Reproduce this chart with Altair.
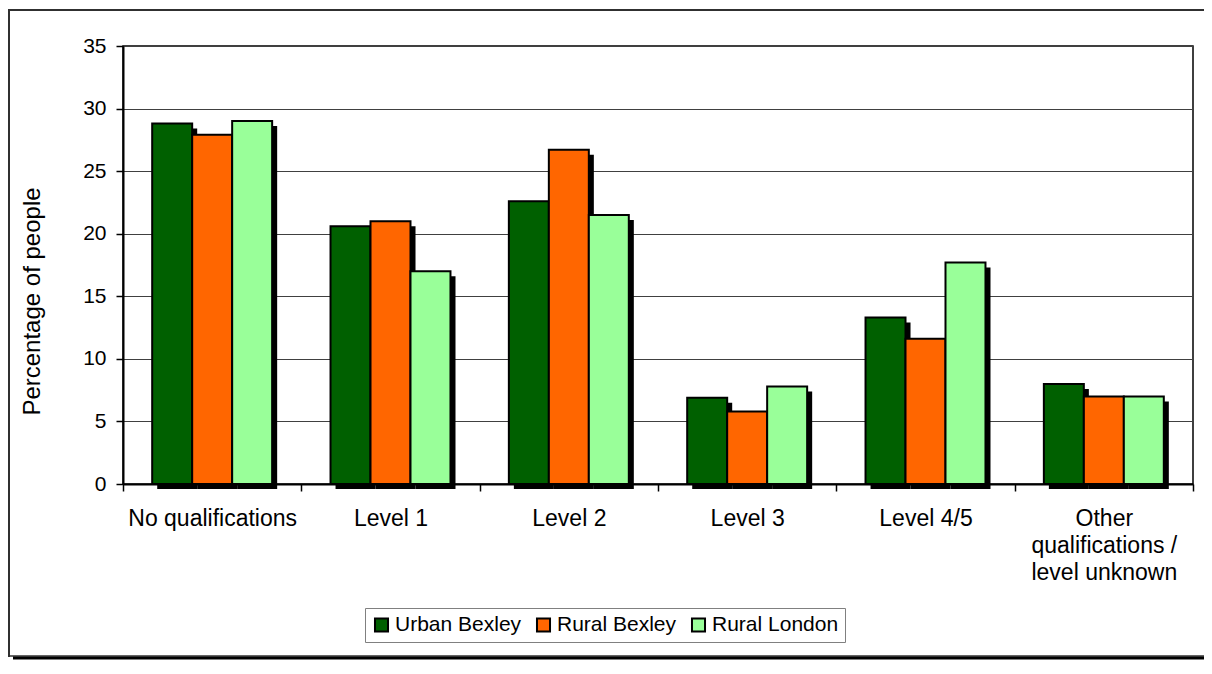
import altair as alt
import pandas as pd

categories = ["No qualifications", "Level 1", "Level 2", "Level 3", "Level 4/5",
              "Other qualifications / level unknown"]
series = ["Urban Bexley", "Rural Bexley", "Rural London"]
urban_bexley = [28.8, 20.6, 22.6, 6.9, 13.3, 8.0]
rural_bexley = [27.9, 21.0, 26.7, 5.8, 11.6, 7.0]
rural_london = [29.0, 17.0, 21.5, 7.8, 17.7, 7.0]
colors = ["#006000", "#FF6600", "#99FF99"]

rows = []
for name, vals in zip(series, [urban_bexley, rural_bexley, rural_london]):
    for c, v in zip(categories, vals):
        rows.append({"category": c, "series": name, "value": v})
df = pd.DataFrame(rows)

FONT = "Liberation Sans, Arial"

x_enc = alt.X("category:N", sort=categories,
              scale=alt.Scale(paddingInner=0, paddingOuter=0),
              axis=alt.Axis(title=None, labelAngle=0, tickBand="extent",
                            labelFontSize=23, labelFont=FONT, labelColor="black",
                            labelPadding=16, labelLineHeight=27,
                            labelExpr="datum.label == 'Other qualifications / level unknown' ? ['Other', 'qualifications /', 'level unknown'] : datum.label",
                            domainColor="black", domainWidth=2,
                            tickColor="black", tickSize=7, tickWidth=1.5,
                            grid=False))
y_enc = alt.Y("value:Q", scale=alt.Scale(domain=[0, 35], nice=False),
              axis=alt.Axis(title="Percentage of people", values=list(range(0, 36, 5)),
                            titleFontSize=24, titleFont=FONT, titleFontWeight="normal",
                            titleColor="black", titleAngle=-90, titleAlign="center",
                            titleBaseline="middle", titleX=-91, titleY=255,
                            labelFontSize=21, labelFont=FONT, labelColor="black",
                            labelPadding=10, domainColor="black", domainWidth=2,
                            tickColor="black", tickSize=7, tickWidth=1.5,
                            grid=True, gridColor="#404040", gridWidth=1))

shadow = alt.Chart(df).mark_bar(color="black", yOffset=5, y2Offset=0).encode(
    x=x_enc,
    xOffset=alt.XOffset("series:N", sort=series,
                        scale=alt.Scale(paddingOuter=0.73, paddingInner=0, align=0.586)),
    y=y_enc,
)

bars = alt.Chart(df).mark_bar(stroke="black", strokeWidth=2).encode(
    x=x_enc,
    xOffset=alt.XOffset("series:N", sort=series,
                        scale=alt.Scale(paddingOuter=0.73, paddingInner=0)),
    y=y_enc,
    color=alt.Color("series:N", sort=series,
                    scale=alt.Scale(domain=series, range=colors),
                    legend=alt.Legend(title=None, orient="none", legendX=242, legendY=562,
                                      direction="horizontal", symbolType="square",
                                      symbolSize=170, symbolStrokeColor="black",
                                      symbolStrokeWidth=2, labelFontSize=21, labelFont=FONT,
                                      labelColor="black", labelOffset=3, columnPadding=10,
                                      strokeColor="#808080", padding=6, fillColor="white")),
)

one = pd.DataFrame({"k": [0]})
frame_top = alt.Chart(one).mark_rule(color="#303030", strokeWidth=2).encode(
    x=alt.value(-114), x2=alt.value(1081), y=alt.value(-36))
frame_left = alt.Chart(one).mark_rule(color="#303030", strokeWidth=2).encode(
    x=alt.value(-114), y=alt.value(-37), y2=alt.value(611))
frame_bottom = alt.Chart(one).mark_rule(color="#303030", strokeWidth=1.5).encode(
    x=alt.value(-114), x2=alt.value(1081), y=alt.value(610))
frame_shadow = alt.Chart(one).mark_rule(color="black", strokeWidth=3).encode(
    x=alt.value(-110), x2=alt.value(1081), y=alt.value(612))

chart = alt.layer(frame_top, frame_bottom, frame_shadow, frame_left, shadow, bars).resolve_scale(
    xOffset="independent"
).properties(
    width=1070, height=438,
    autosize=alt.AutoSizeParams(type="none"),
    padding={"left": 115, "top": 38, "right": 11, "bottom": 176},
).configure_view(stroke="black", strokeWidth=1.5)

chart.save("out.html", embed_options={"renderer": "svg", "actions": False})
